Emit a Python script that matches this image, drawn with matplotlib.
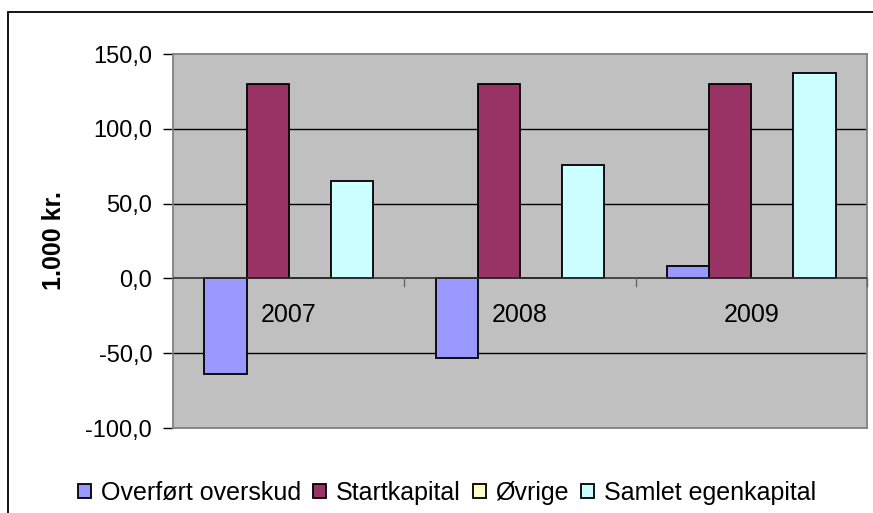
import numpy as np
import matplotlib
matplotlib.use("Agg")
import matplotlib.pyplot as plt
from matplotlib.patches import Rectangle

plt.rcParams['font.family'] = ['Liberation Sans', 'DejaVu Sans']

years = ["2007", "2008", "2009"]
series = ["Overført overskud", "Startkapital", "Øvrige", "Samlet egenkapital"]
overfoert = [-64, -53, 8]
startkapital = [130, 130, 130]
oevrige = [0, 0, 0]
samlet = [65, 76, 137]
colors = ["#9999FF", "#993366", "#FFFFCC", "#CCFFFF"]
yticks = [-100, -50, 0, 50, 100, 150]

values = [overfoert, startkapital, oevrige, samlet]

fig = plt.figure(figsize=(8.73, 5.13), dpi=100)
ax = fig.add_axes([173 / 873, 1 - 428 / 513, 694 / 873, 374 / 513])
ax.set_facecolor("#C0C0C0")

x = np.arange(len(years))
w = 0.182
for i, (name, vals) in enumerate(zip(series, values)):
    ax.bar(x + (i - 1.5) * w, vals, w, color=colors[i], edgecolor="black",
           linewidth=1.3, label=name, zorder=3)

ax.set_xlim(-0.5, 2.5)
ax.set_ylim(-100, 150)
ax.set_yticks(yticks)
ax.set_yticklabels([f"{v:.1f}".replace(".", ",") for v in yticks], fontsize=17)
ax.tick_params(axis="y", length=7, width=1, pad=8)
for v in [-50, 50, 100]:
    ax.axhline(v, color="black", linewidth=1, zorder=1)
ax.axhline(0, color="#333333", linewidth=1.2, zorder=4)

# category boundary ticks on zero line
ax.set_xticks([])
for b in [0.5, 1.5, 2.5]:
    ax.plot([b, b], [0, -5], color="#666666", linewidth=1, zorder=4, clip_on=False)
for xi, yr in zip(x, years):
    ax.text(xi, -24.7, yr, ha="center", va="center", fontsize=18, zorder=5)

for s in ax.spines.values():
    s.set_color("#808080")
    s.set_linewidth(1.3)

ax.set_ylabel("1.000 kr.", fontsize=18, fontweight="bold", labelpad=14)

fig.legend(loc="center", bbox_to_anchor=(447 / 873, 1 - 493 / 513), ncol=4,
           frameon=False, fontsize=18, handlelength=0.52, handleheight=0.52,
           handletextpad=0.4, columnspacing=0.48, borderpad=0)

fig.patches.append(Rectangle((8 / 873, -0.2), 1.2, 1 - 12 / 513 + 0.2,
                             transform=fig.transFigure, fill=False,
                             edgecolor="black", linewidth=1.3, figure=fig))

fig.savefig("out.png", dpi=100)
